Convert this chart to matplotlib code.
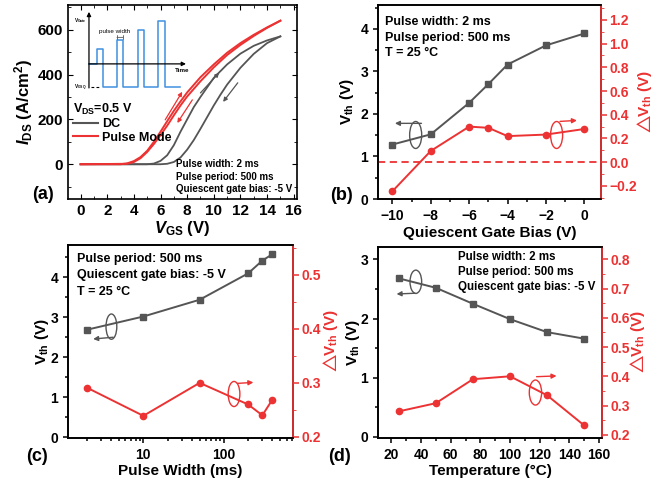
import matplotlib
matplotlib.use('Agg')
import matplotlib.pyplot as plt
from matplotlib.lines import Line2D
from matplotlib.patches import Ellipse
from matplotlib.ticker import MultipleLocator, LogLocator, NullFormatter

plt.rcParams['font.family'] = ['Liberation Sans', 'DejaVu Sans']
plt.rcParams['font.weight'] = 'bold'
plt.rcParams['axes.labelweight'] = 'bold'
plt.rcParams['mathtext.fontset'] = 'custom'
plt.rcParams['mathtext.rm'] = 'Liberation Sans:bold'
plt.rcParams['mathtext.bf'] = 'Liberation Sans:bold'
plt.rcParams['mathtext.it'] = 'Liberation Sans:italic:bold'
plt.rcParams['mathtext.fallback'] = 'stixsans'
plt.rcParams['axes.linewidth'] = 1.2

GRAY = '#555555'
RED = '#ec3232'
BLUE = '#3f8fe0'

# (a) transfer curves, DC vs pulse mode
vgs_dc_fwd = [0, 5.0, 5.5, 6.0, 6.5, 7.0, 7.5, 8.0, 8.5, 9.0, 10.0, 11.0, 12.0, 13.0, 14.0, 15.0]
ids_dc_fwd = [0, 0, 3, 15, 40, 85, 145, 200, 255, 300, 385, 445, 493, 528, 552, 570]
vgs_dc_bwd = [15.0, 14.0, 13.0, 12.0, 11.0, 10.5, 10.0, 9.5, 9.0, 8.5, 8.0, 7.5, 7.0, 6.5, 6.0, 0]
ids_dc_bwd = [570, 540, 492, 430, 355, 310, 262, 210, 158, 108, 65, 30, 10, 2, 0, 0]
vgs_pm_fwd = [0, 3.0, 3.5, 4.0, 4.5, 5.0, 5.5, 6.0, 6.5, 7.0, 7.5, 8.0, 9.0, 10.0, 11.0, 12.0, 13.0, 14.0, 15.0]
ids_pm_fwd = [0, 0, 4, 14, 32, 60, 100, 145, 192, 238, 280, 320, 388, 445, 497, 540, 577, 610, 640]
vgs_pm_bwd = [15.0, 14.0, 13.0, 12.0, 11.0, 10.0, 9.0, 8.0, 7.5, 7.0, 6.5, 6.0, 5.5, 5.0, 4.5, 4.0, 3.5, 0]
ids_pm_bwd = [640, 608, 572, 532, 487, 432, 370, 302, 262, 218, 172, 130, 90, 55, 27, 10, 2, 0]

# gate waveform sketch (time, level)
wave_t = [0, 8, 8, 14, 14, 28, 28, 34, 34, 49, 49, 55, 55, 69, 69, 76, 76, 91]
wave_v = [0, 0, 1.5, 1.5, -2.35, -2.35, 2.43, 2.43, -2.35, -2.35, 3.36, 3.36, -2.35, -2.35, 4.26, 4.26, -2.35, -2.35]

# (b) quiescent gate bias
qgb = [-10, -8, -6, -5, -4, -2, 0]
vth_qgb = [1.28, 1.52, 2.26, 2.70, 3.16, 3.61, 3.89]
dvth_qgb = [-0.245, 0.095, 0.30, 0.29, 0.22, 0.233, 0.28]

# (c) pulse width
pw = [2, 10, 50, 200, 300, 400]
vth_pw = [2.69, 3.02, 3.44, 4.10, 4.42, 4.58]
dvth_pw = [0.291, 0.239, 0.300, 0.260, 0.240, 0.269]

# (d) temperature
temp = [25, 50, 75, 100, 125, 150]
vth_t = [2.68, 2.52, 2.25, 1.99, 1.77, 1.66]
dvth_t = [0.28, 0.308, 0.39, 0.40, 0.335, 0.232]

DVTH_LABEL = r'$\triangle\!\!\mathrm{V_{th}}$ (V)'

fig = plt.figure(figsize=(6.6, 4.8), dpi=100)
ax_a = fig.add_axes([0.1030, 0.5854, 0.3470, 0.4042])
ax_b = fig.add_axes([0.5727, 0.5854, 0.3379, 0.4042])
ax_c = fig.add_axes([0.1030, 0.0875, 0.3409, 0.4021])
ax_d = fig.add_axes([0.5727, 0.0875, 0.3394, 0.3979])


def loop_marker(ax, center, w, h, start, end, color):
    ax.add_patch(Ellipse(center, w, h, transform=ax.transAxes, fill=False,
                         edgecolor=color, lw=1.0))
    ax.annotate('', xy=end, xytext=start, xycoords='axes fraction',
                arrowprops=dict(arrowstyle='-|>', color=color, lw=1.0,
                                mutation_scale=7, shrinkA=0, shrinkB=0))


def red_twin(ax, pad=0):
    ax2 = ax.twinx()
    ax2.spines['right'].set_color(RED)
    ax2.spines['right'].set_linewidth(1.2)
    ax2.tick_params(axis='y', colors=RED, labelsize=10, direction='out',
                    length=4, width=1.1, pad=2)
    ax2.tick_params(axis='y', which='minor', colors=RED, direction='out', length=2.5)
    ax2.set_ylabel(DVTH_LABEL, color=RED, fontsize=11, labelpad=pad)
    return ax2


# ---- (a)
ax = ax_a
ax.plot(vgs_dc_fwd, ids_dc_fwd, color=GRAY, lw=1.3)
ax.plot(vgs_dc_bwd, ids_dc_bwd, color=GRAY, lw=1.3)
ax.plot(vgs_pm_fwd, ids_pm_fwd, color=RED, lw=1.4)
ax.plot(vgs_pm_bwd, ids_pm_bwd, color=RED, lw=1.4)
ax.set_xlim(-0.95, 16.25)
ax.set_ylim(-155, 710)
ax.xaxis.set_major_locator(MultipleLocator(2))
ax.xaxis.set_minor_locator(MultipleLocator(1))
ax.yaxis.set_major_locator(MultipleLocator(200))
ax.yaxis.set_minor_locator(MultipleLocator(100))
ax.tick_params(which='both', direction='in', top=True, right=True, labelsize=11)
ax.tick_params(which='major', length=3.5)
ax.tick_params(which='minor', length=2)
ax.set_xlabel(r'$V_\mathrm{GS}$ (V)', fontsize=12, labelpad=1)
ax.set_ylabel(r'$I_\mathrm{DS}$ (A/cm$^2$)', fontsize=12, labelpad=2)

for s, e, c in [((9.0, 318), (10.4, 408), GRAY), ((11.8, 363), (10.7, 278), GRAY),
                ((6.35, 198), (7.63, 323), RED), ((8.39, 287), (7.26, 184), RED)]:
    ax.annotate('', xy=e, xytext=s,
                arrowprops=dict(arrowstyle='-|>', color=c, lw=0.9, mutation_scale=6,
                                shrinkA=0, shrinkB=0))

handles = [Line2D([], [], color=GRAY, lw=1.5), Line2D([], [], color=RED, lw=1.5)]
leg = ax.legend(handles, ['DC', 'Pulse Mode'], title=r'$\mathrm{V_{DS}}$=0.5 V',
                loc='upper left', bbox_to_anchor=(0.022, 0.50), frameon=False,
                fontsize=9, title_fontsize=9, borderpad=0, borderaxespad=0,
                handlelength=2.0, handletextpad=0.3, labelspacing=0.1)
leg._legend_box.align = 'left'

for i, t in enumerate(['Pulse width: 2 ms', 'Pulse period: 500 ms',
                       'Quiescent gate bias: -5 V']):
    ax.text(0.472, 0.18 - i * 0.064, t, transform=ax.transAxes, fontsize=7, va='center')

ins = ax.inset_axes([0.0087, 0.552, 0.524, 0.423])
ins.set_xlim(-19, 101)
ins.set_ylim(-2.8, 5.4)
ins.axis('off')
ins.plot(wave_t, wave_v, color=BLUE, lw=1.1)
ins.plot([2, 12], [-2.35, -2.35], color='black', lw=0.8, ls=(0, (2.5, 2)))
ins.annotate('', xy=(0, 5.2), xytext=(0, -2.4),
             arrowprops=dict(arrowstyle='-|>', color='black', lw=0.9, mutation_scale=6,
                             shrinkA=0, shrinkB=0))
ins.annotate('', xy=(97, 0), xytext=(0, 0),
             arrowprops=dict(arrowstyle='-|>', color='black', lw=0.9, mutation_scale=6,
                             shrinkA=0, shrinkB=0))
ins.text(-2, 4.3, r'$\mathrm{V_{Gate}}$', fontsize=3.5, ha='right', va='center')
ins.text(-2, -2.35, r'$\mathrm{V_{GSQ}}$', fontsize=3.5, ha='right', va='center')
ins.text(93, -0.7, 'Time', fontsize=4.5, ha='center', va='center')
ins.text(26, 3.2, 'pulse width', fontsize=4.5, ha='center', va='center', fontweight='normal')
ins.annotate('', xy=(34, 2.65), xytext=(28, 2.65),
             arrowprops=dict(arrowstyle='|-|', color=GRAY, lw=0.6, mutation_scale=1.5,
                             shrinkA=0, shrinkB=0))

# ---- (b)
ax = ax_b
ax.plot(qgb, vth_qgb, color=GRAY, marker='s', ms=4.5, lw=1.4)
ax.set_xlim(-10.75, 0.87)
ax.set_ylim(0, 4.56)
ax.xaxis.set_major_locator(MultipleLocator(2))
ax.xaxis.set_minor_locator(MultipleLocator(1))
ax.yaxis.set_major_locator(MultipleLocator(1))
ax.yaxis.set_minor_locator(MultipleLocator(0.5))
ax.tick_params(which='both', direction='out', labelsize=10, width=1.1)
ax.tick_params(which='minor', length=2.5)
ax.set_xlabel('Quiescent Gate Bias (V)', fontsize=11, labelpad=2)
ax.set_ylabel(r'$\mathrm{V_{th}}$ (V)', fontsize=11, labelpad=3)
ax2 = red_twin(ax, pad=-1)
ax2.plot(qgb, dvth_qgb, color=RED, marker='o', ms=4.5, lw=1.4)
ax2.axhline(0, color=RED, lw=1.3, ls=(0, (4, 2.5)))
ax2.set_ylim(-0.31, 1.325)
ax2.yaxis.set_major_locator(MultipleLocator(0.2))
ax2.yaxis.set_minor_locator(MultipleLocator(0.1))
for i, t in enumerate(['Pulse width: 2 ms', 'Pulse period: 500 ms', 'T = 25 °C']):
    ax.text(0.03, 0.912 - i * 0.08, t, transform=ax.transAxes, fontsize=9, va='center')
loop_marker(ax, (0.169, 0.330), 0.054, 0.139, (0.195, 0.39), (0.076, 0.39), GRAY)
loop_marker(ax, (0.801, 0.330), 0.054, 0.139, (0.816, 0.40), (0.892, 0.405), RED)

# ---- (c)
ax = ax_c
ax.plot(pw, vth_pw, color=GRAY, marker='s', ms=4.5, lw=1.4)
ax.set_xscale('log')
ax.set_xlim(1.16, 720)
ax.set_ylim(-0.02, 4.81)
ax.xaxis.set_major_locator(LogLocator(base=10))
ax.xaxis.set_minor_locator(LogLocator(base=10, subs=range(2, 10)))
ax.xaxis.set_minor_formatter(NullFormatter())
ax.set_xticks([10, 100], ['10', '100'])
ax.yaxis.set_major_locator(MultipleLocator(1))
ax.yaxis.set_minor_locator(MultipleLocator(0.5))
ax.tick_params(which='both', direction='out', labelsize=10, width=1.1)
ax.tick_params(which='minor', length=2.5)
ax.set_xlabel('Pulse Width (ms)', fontsize=11, labelpad=2)
ax.set_ylabel(r'$\mathrm{V_{th}}$ (V)', fontsize=11, labelpad=0)
ax2 = red_twin(ax, pad=0)
ax2.plot(pw, dvth_pw, color=RED, marker='o', ms=4.5, lw=1.4)
ax2.set_ylim(0.198, 0.555)
ax2.yaxis.set_major_locator(MultipleLocator(0.1))
ax2.yaxis.set_minor_locator(MultipleLocator(0.05))
for i, t in enumerate(['Pulse period: 500 ms', 'Quiescent gate bias: -5 V', 'T = 25 °C']):
    ax.text(0.04, 0.927 - i * 0.085, t, transform=ax.transAxes, fontsize=9, va='center')
loop_marker(ax, (0.193, 0.577), 0.048, 0.131, (0.201, 0.522), (0.112, 0.513), GRAY)
loop_marker(ax, (0.738, 0.228), 0.052, 0.130, (0.753, 0.283), (0.824, 0.288), RED)

# ---- (d)
ax = ax_d
ax.plot(temp, vth_t, color=GRAY, marker='s', ms=4.5, lw=1.4)
ax.set_xlim(11, 162)
ax.set_ylim(-0.02, 3.21)
ax.xaxis.set_major_locator(MultipleLocator(20))
ax.xaxis.set_minor_locator(MultipleLocator(10))
ax.yaxis.set_major_locator(MultipleLocator(1))
ax.yaxis.set_minor_locator(MultipleLocator(0.5))
ax.tick_params(which='both', direction='out', labelsize=10, width=1.1)
ax.tick_params(which='minor', length=2.5)
ax.set_xlabel('Temperature (°C)', fontsize=11, labelpad=2)
ax.set_ylabel(r'$\mathrm{V_{th}}$ (V)', fontsize=11, labelpad=-1)
ax2 = red_twin(ax, pad=-1)
ax2.plot(temp, dvth_t, color=RED, marker='o', ms=4.5, lw=1.4)
ax2.set_ylim(0.189, 0.842)
ax2.yaxis.set_major_locator(MultipleLocator(0.1))
ax2.yaxis.set_minor_locator(MultipleLocator(0.05))
for i, t in enumerate(['Pulse width: 2 ms', 'Pulse period: 500 ms',
                       'Quiescent gate bias: -5 V']):
    ax.text(0.357, 0.949 - i * 0.08, t, transform=ax.transAxes, fontsize=8.3, va='center')
loop_marker(ax, (0.169, 0.818), 0.052, 0.122, (0.165, 0.758), (0.083, 0.754), GRAY)
loop_marker(ax, (0.703, 0.238), 0.055, 0.131, (0.708, 0.321), (0.797, 0.325), RED)

for lab, x, y in [('(a)', 0.065, 0.594), ('(b)', 0.517, 0.592),
                  ('(c)', 0.056, 0.048), ('(d)', 0.515, 0.048)]:
    fig.text(x, y, lab, fontsize=13, ha='center', va='center')

fig.savefig('out.png', dpi=100)
